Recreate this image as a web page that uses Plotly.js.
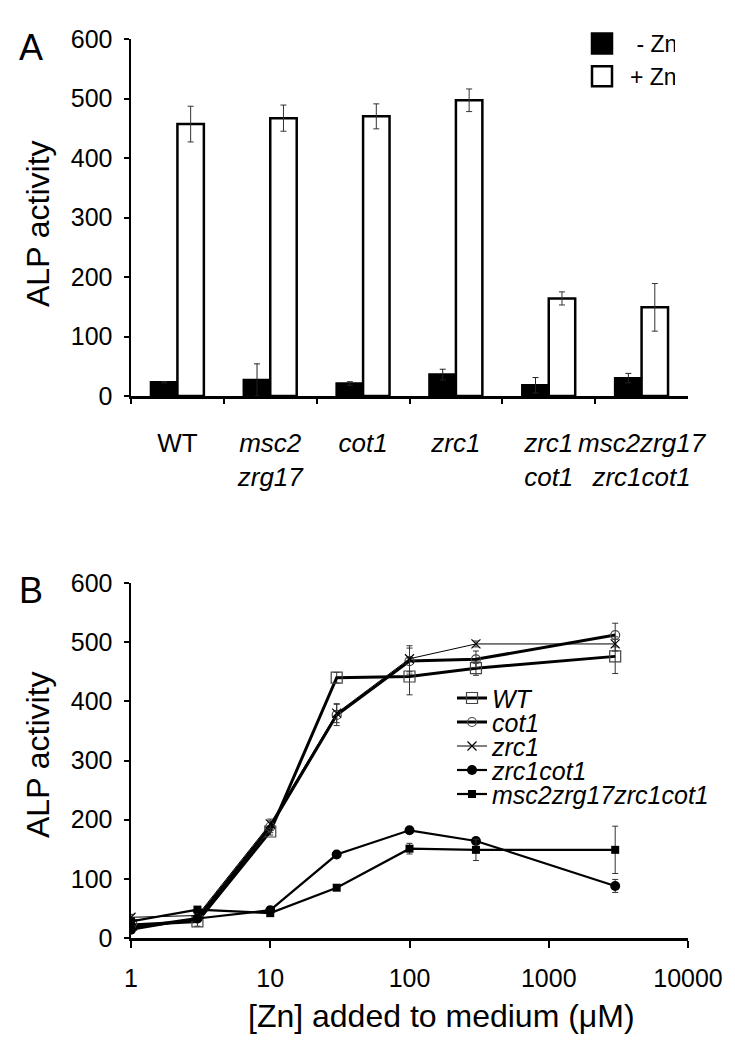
<!DOCTYPE html>
<html>
<head>
<meta charset="utf-8">
<script src="https://cdn.plot.ly/plotly-3.0.1.min.js"></script>
<style>html,body{margin:0;padding:0;background:#fff;}#chart{width:735px;height:1050px;}</style>
</head>
<body>
<div id="chart"></div>
<script>
// ---------- Panel A data ----------
const strains = ['WT', 'msc2zrg17', 'cot1', 'zrc1', 'zrc1cot1', 'msc2zrg17zrc1cot1'];
const strainLabels = ['WT', '<i>msc2</i><br><i>zrg17</i>', '<i>cot1</i>', '<i>zrc1</i>', '<i>zrc1</i><br><i>cot1</i>', '<i>msc2zrg17</i><br><i>zrc1cot1</i>'];
const minusZn = [23, 27, 21, 36, 18, 30];
const minusZnErr = [1, 27, 3, 9, 13, 8];
const plusZn = [457, 467, 470, 497, 164, 149];
const plusZnErr = [30, 22, 21, 19, 11, 40];

// ---------- Panel B data ----------
const znAdded = [1, 3, 10, 30, 100, 300, 3000];
const wt = [22, 28, 180, 440, 442, 456, 476];
const wtErr = [4, 8, 6, 9, 31, 12, 29];
const cot1 = [17, 33, 188, 377, 468, 471, 512];
const cot1Err = [3, 5, 10, 18, 22, 14, 20];
const zrc1 = [35, 38, 193, 380, 472, 497, 497];
const zrc1Err = [5, 5, 8, 16, 22, 5, 12];
const zrc1cot1 = [14, 33, 47, 141, 182, 164, 88];
const zrc1cot1Err = [3, 4, 6, 4, 4, 4, 11];
const quad = [28, 48, 42, 85, 151, 149, 149];
const quadErr = [3, 4, 5, 3, 9, 18, 40];
const xTicks = [1, 10, 100, 1000, 10000];

const W = 735, H = 1050;
const px = v => v / W;
const py = v => 1 - v / H;
const FONT = 'Liberation Sans, Arial, sans-serif';

const errStyle = (arr, color) => ({type: 'data', array: arr, visible: true, color: color, thickness: 1, width: 3});

const traces = [
  {type: 'bar', name: ' - Zn', x: strains, y: minusZn, xaxis: 'x', yaxis: 'y', legend: 'legend',
   marker: {color: '#000', line: {color: '#000', width: 2.5}}, error_y: errStyle(minusZnErr, '#222')},
  {type: 'bar', name: '+ Zn', x: strains, y: plusZn, xaxis: 'x', yaxis: 'y', legend: 'legend',
   marker: {color: '#fff', line: {color: '#000', width: 2.5}}, error_y: errStyle(plusZnErr, '#333')},
  {type: 'scatter', mode: 'lines+markers', name: '<i>WT</i>', x: znAdded, y: wt, xaxis: 'x2', yaxis: 'y2', legend: 'legend2',
   line: {color: '#000', width: 3}, marker: {symbol: 'square-open', size: 11, color: '#444', line: {width: 1.2}},
   error_y: errStyle(wtErr, '#333')},
  {type: 'scatter', mode: 'lines+markers', name: '<i>cot1</i>', x: znAdded, y: cot1, xaxis: 'x2', yaxis: 'y2', legend: 'legend2',
   line: {color: '#000', width: 3}, marker: {symbol: 'circle-open', size: 9, color: '#444', line: {width: 1.2}},
   error_y: errStyle(cot1Err, '#333')},
  {type: 'scatter', mode: 'lines+markers', name: '<i>zrc1</i>', x: znAdded, y: zrc1, xaxis: 'x2', yaxis: 'y2', legend: 'legend2',
   line: {color: '#000', width: 1}, marker: {symbol: 'x-thin-open', size: 9, color: '#000', line: {width: 1.2}},
   error_y: errStyle(zrc1Err, '#333')},
  {type: 'scatter', mode: 'lines+markers', name: '<i>zrc1cot1</i>', x: znAdded, y: zrc1cot1, xaxis: 'x2', yaxis: 'y2', legend: 'legend2',
   line: {color: '#000', width: 2.2}, marker: {symbol: 'circle', size: 10, color: '#000'},
   error_y: errStyle(zrc1cot1Err, '#333')},
  {type: 'scatter', mode: 'lines+markers', name: '<i>msc2zrg17zrc1cot1</i>', x: znAdded, y: quad, xaxis: 'x2', yaxis: 'y2', legend: 'legend2',
   line: {color: '#000', width: 2.2}, marker: {symbol: 'square', size: 8, color: '#000'},
   error_y: errStyle(quadErr, '#333')}
];

const axisCommon = {showline: true, linecolor: '#000', linewidth: 2.5, ticks: 'outside', ticklen: 5, tickwidth: 2,
  tickcolor: '#000', showgrid: false, zeroline: false, tickfont: {family: FONT, size: 25, color: '#000'}};

const layout = {
  width: W, height: H,
  margin: {l: 0, r: 0, t: 0, b: 0},
  paper_bgcolor: '#fff', plot_bgcolor: '#fff',
  barmode: 'group', bargap: 0.43, bargroupgap: 0,
  font: {family: FONT, color: '#000'},
  xaxis: Object.assign({}, axisCommon, {domain: [px(131), px(688)], anchor: 'y', type: 'category',
    tickmode: 'array', tickvals: strains, ticktext: strainLabels, tickson: 'boundaries', tickangle: 0,
    tickfont: {family: FONT, size: 26, color: '#000'}, ticklabelstandoff: 22}),
  yaxis: Object.assign({}, axisCommon, {domain: [py(396), py(39)], anchor: 'x', range: [0, 600], dtick: 100,
    ticklabelstandoff: 6}),
  xaxis2: Object.assign({}, axisCommon, {domain: [px(131), px(688)], anchor: 'y2', type: 'log', range: [0, 4],
    tickmode: 'array', tickvals: xTicks, ticktext: xTicks.map(String), ticklen: 7, tickangle: 0, ticklabelstandoff: 9}),
  yaxis2: Object.assign({}, axisCommon, {domain: [py(938), py(583)], anchor: 'x2', range: [0, 600], dtick: 100,
    ticklabelstandoff: 6}),
  showlegend: true,
  legend: {x: px(582), y: py(22), xanchor: 'left', yanchor: 'top', bgcolor: 'rgba(0,0,0,0)', borderwidth: 0,
    font: {family: FONT, size: 23, color: '#000'}},
  legend2: {x: px(452), y: py(682), xanchor: 'left', yanchor: 'top', bgcolor: 'rgba(0,0,0,0)', borderwidth: 0,
    font: {family: FONT, size: 25, color: '#000'}},
  annotations: [
    {text: 'A', xref: 'paper', yref: 'paper', x: px(31), y: py(47), xanchor: 'center', yanchor: 'middle', showarrow: false, font: {family: FONT, size: 36}},
    {text: 'B', xref: 'paper', yref: 'paper', x: px(31), y: py(590), xanchor: 'center', yanchor: 'middle', showarrow: false, font: {family: FONT, size: 36}},
    {text: 'ALP activity', xref: 'paper', yref: 'paper', x: px(38), y: py(224), xanchor: 'center', yanchor: 'middle', textangle: -90, showarrow: false,
     font: {family: FONT, size: 32}},
    {text: 'ALP activity', xref: 'paper', yref: 'paper', x: px(38), y: py(755), xanchor: 'center', yanchor: 'middle', textangle: -90, showarrow: false,
     font: {family: FONT, size: 32}},
    {text: '[Zn] added to medium (\u03bcM)', xref: 'paper', yref: 'paper', x: px(442), y: py(1016), xanchor: 'center', yanchor: 'middle', showarrow: false,
     font: {family: FONT, size: 32}}
  ]
};

Plotly.newPlot('chart', traces, layout, {staticPlot: true}).then(function (gd) {
  // tighten the spacing of the line legend to match the figure
  const items2 = gd.querySelectorAll('g.legend2 g.traces');
  items2.forEach(function (el, i) {
    const m = /translate\(([-\d.]+),\s*([-\d.]+)\)/.exec(el.getAttribute('transform') || '');
    const x0 = m ? parseFloat(m[1]) : 0;
    el.setAttribute('transform', 'translate(' + x0 + ',' + (16 + i * 24) + ')');
  });
  // larger legend squares for the bar legend
  gd.querySelectorAll('g.legend g.legendpoints path').forEach(function (p) {
    p.setAttribute('d', 'M10,10H-10V-10H10Z');
  });
  gd.querySelectorAll('g.legend text.legendtext').forEach(function (t) {
    t.setAttribute('x', '48');
  });
});
</script>
</body>
</html>
